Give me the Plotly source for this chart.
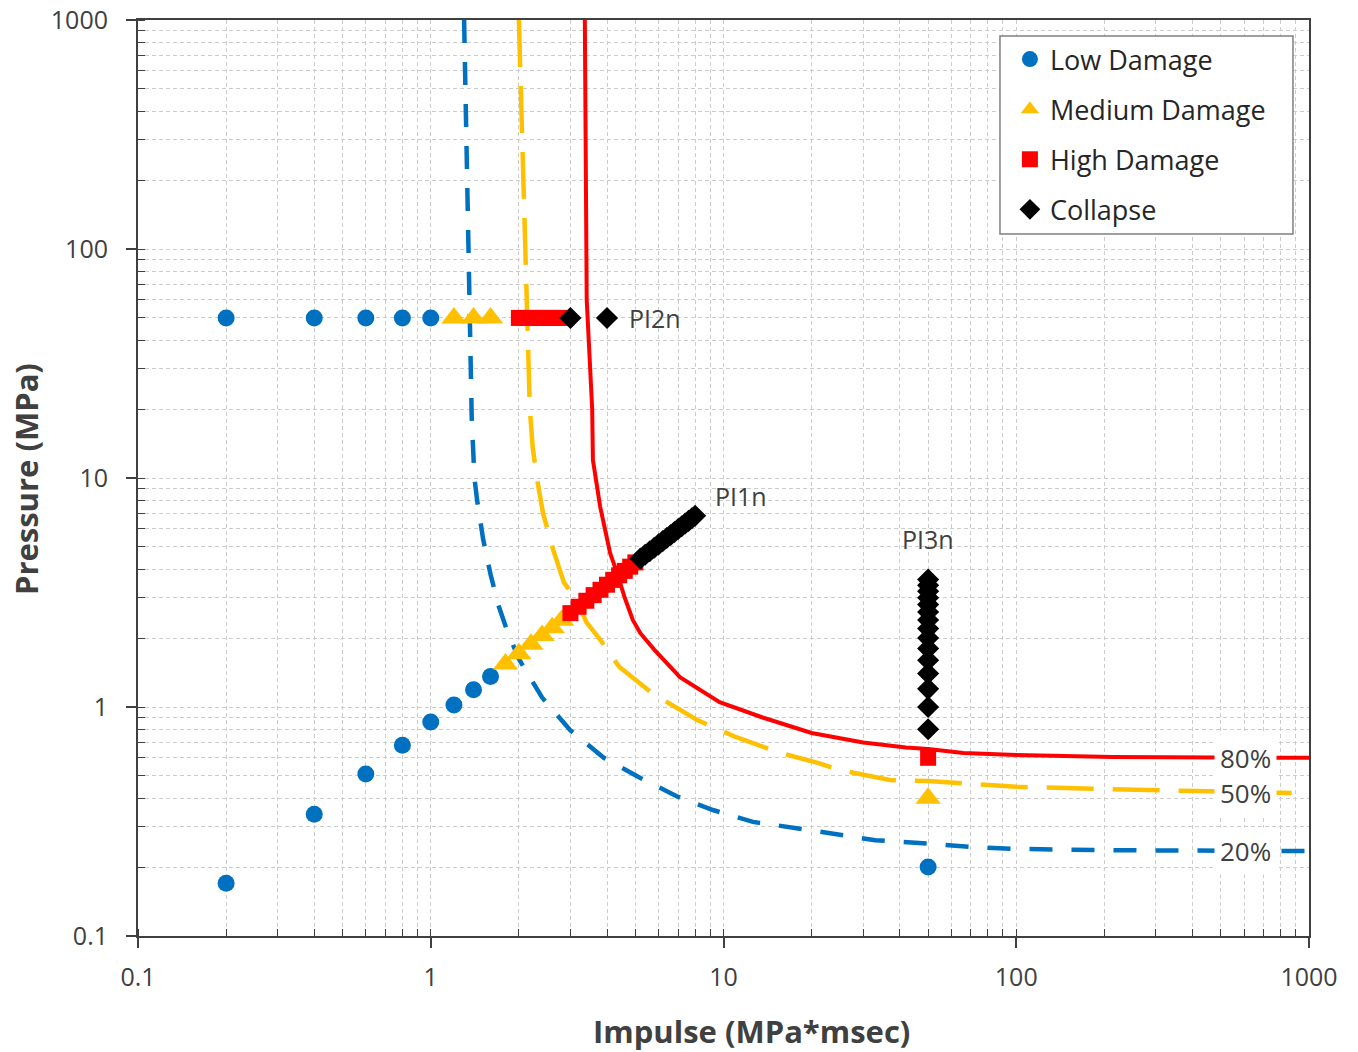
import math
import plotly.graph_objects as go

# ---------------- data ----------------
# Pressure-impulse threshold curves (impulse in MPa*msec, pressure in MPa)
curve20_x = [1.30, 1.33, 1.36, 1.38, 1.41, 1.44, 1.51, 1.60, 1.70, 1.82, 2.0, 2.4, 3.0, 3.9,
             5.2, 7.0, 9.2, 12.6, 18.0, 25.0, 33.0, 50.0, 70.0, 100.0, 200.0, 1000.0]
curve20_y = [1000, 200, 60, 18.5, 10, 8.0, 5.4, 3.8, 2.8, 2.17, 1.62, 1.10, 0.79, 0.60,
             0.49, 0.405, 0.355, 0.315, 0.295, 0.276, 0.262, 0.253, 0.245, 0.240, 0.237, 0.235]

curve50_x = [2.0, 2.05, 2.12, 2.15, 2.18, 2.23, 2.31, 2.42, 2.62, 2.85, 3.16, 3.4, 3.8, 4.4,
             5.7, 8.1, 11.0, 15.6, 21.0, 25.0, 37.0, 50.0, 61.0, 100.0, 280.0, 1000.0]
curve50_y = [1000, 300, 60, 39, 20, 13.6, 9.8, 7.0, 4.85, 3.5, 2.9, 2.35, 1.96, 1.50,
             1.15, 0.88, 0.74, 0.63, 0.57, 0.53, 0.48, 0.475, 0.466, 0.448, 0.434, 0.42]

curve80_x = [3.36, 3.38, 3.41, 3.56, 3.58, 3.79, 4.1, 4.33, 4.6, 4.9, 5.2, 5.8, 7.1, 9.7,
             13.6, 20.0, 30.0, 42.0, 50.0, 66.0, 100.0, 214.0, 1000.0]
curve80_y = [1000, 300, 60, 20, 12, 7.5, 4.7, 3.85, 3.0, 2.4, 2.1, 1.78, 1.35, 1.05,
             0.90, 0.77, 0.70, 0.665, 0.655, 0.63, 0.617, 0.605, 0.60]

curve_labels = ["20%", "50%", "80%"]

# PI1n load path (proportional pressure/impulse)
pi1_low_x = [0.2, 0.4, 0.6, 0.8, 1.0, 1.2, 1.4, 1.6]
pi1_low_y = [0.17, 0.34, 0.51, 0.68, 0.86, 1.02, 1.19, 1.36]
pi1_med_x = [1.8, 2.0, 2.2, 2.4, 2.6, 2.8]
pi1_med_y = [1.54, 1.71, 1.88, 2.05, 2.22, 2.39]
pi1_high_x = [3.0, 3.2, 3.4, 3.6, 3.8, 4.0, 4.2, 4.4, 4.6, 4.8, 5.0]
pi1_high_y = [2.57, 2.74, 2.91, 3.08, 3.25, 3.42, 3.59, 3.76, 3.93, 4.10, 4.28]
pi1_col_x = [5.2, 5.4, 5.6, 5.8, 6.0, 6.2, 6.4, 6.6, 6.8, 7.0, 7.2, 7.4, 7.6, 7.8, 8.0]
pi1_col_y = [4.45, 4.62, 4.79, 4.96, 5.13, 5.30, 5.47, 5.64, 5.81, 5.99, 6.16, 6.33, 6.50, 6.67, 6.84]

# PI2n load path (constant pressure 50 MPa)
pi2_low_x = [0.2, 0.4, 0.6, 0.8, 1.0]
pi2_low_y = [50, 50, 50, 50, 50]
pi2_med_x = [1.2, 1.4, 1.6]
pi2_med_y = [50, 50, 50]
pi2_high_x = [2.0, 2.1, 2.2, 2.3, 2.4, 2.5, 2.6, 2.7, 2.8]
pi2_high_y = [50, 50, 50, 50, 50, 50, 50, 50, 50]
pi2_col_x = [3.0, 4.0]
pi2_col_y = [50, 50]

# PI3n load path (constant impulse 50 MPa*msec)
pi3_low_x = [50]
pi3_low_y = [0.2]
pi3_med_x = [50]
pi3_med_y = [0.4]
pi3_high_x = [50]
pi3_high_y = [0.6]
pi3_col_x = [50] * 15
pi3_col_y = [0.8, 1.0, 1.2, 1.4, 1.6, 1.8, 2.0, 2.2, 2.4, 2.6, 2.8, 3.0, 3.2, 3.4, 3.6]

tick_vals = [0.1, 1, 10, 100, 1000]
tick_text = ["0.1", "1", "10", "100", "1000"]

# ---------------- styling ----------------
BLUE = "#0070C0"
YELLOW = "#FFC000"
RED = "#FF0000"
BLACK = "#000000"
TXT = "#404040"
GRID = "#CCCCCC"
FONT = "Open Sans"

fig = go.Figure()

# threshold curves
fig.add_trace(go.Scatter(x=curve20_x, y=curve20_y, mode="lines", showlegend=False,
                         line=dict(color=BLUE, width=4.5, dash="23px,19px"), hoverinfo="skip"))
fig.add_trace(go.Scatter(x=curve50_x, y=curve50_y, mode="lines", showlegend=False,
                         line=dict(color=YELLOW, width=4.5, dash="47px,19px"), hoverinfo="skip"))
fig.add_trace(go.Scatter(x=curve80_x, y=curve80_y, mode="lines", showlegend=False,
                         line=dict(color=RED, width=4), hoverinfo="skip"))

# damage-level markers, one legend entry per level
levels = [
    ("Low Damage", pi1_low_x + pi2_low_x + pi3_low_x, pi1_low_y + pi2_low_y + pi3_low_y,
     "circle", BLUE, 17),
    ("Medium Damage", pi1_med_x + pi2_med_x + pi3_med_x, pi1_med_y + pi2_med_y + pi3_med_y,
     "triangle-up", YELLOW, 22),
    ("High Damage", pi1_high_x + pi2_high_x + pi3_high_x, pi1_high_y + pi2_high_y + pi3_high_y,
     "square", RED, 16),
    ("Collapse", pi1_col_x + pi2_col_x + pi3_col_x, pi1_col_y + pi2_col_y + pi3_col_y,
     "diamond", BLACK, 17),
]
for name, xs, ys, sym, col, size in levels:
    fig.add_trace(go.Scatter(x=xs, y=ys, mode="markers", name=name, legendgroup=name,
                             marker=dict(symbol=sym, color=col, size=size, line=dict(width=0))))

annotations = []
# load path labels
annotations.append(dict(x=math.log10(pi1_col_x[-1]), y=math.log10(pi1_col_y[-1]), text="PI1n",
                        xanchor="left", yanchor="middle", xshift=18, yshift=20, showarrow=False,
                        font=dict(family=FONT, size=25, color=TXT)))
annotations.append(dict(x=math.log10(pi2_col_x[-1]), y=math.log10(pi2_col_y[-1]), text="PI2n",
                        xanchor="left", yanchor="middle", xshift=20, yshift=0, showarrow=False,
                        font=dict(family=FONT, size=25, color=TXT)))
annotations.append(dict(x=math.log10(pi3_col_x[-1]), y=math.log10(pi3_col_y[-1]), text="PI3n",
                        xanchor="center", yanchor="bottom", yshift=22, showarrow=False,
                        font=dict(family=FONT, size=25, color=TXT)))

# curve labels sitting on the curves near the right edge
for lab, cy in zip(curve_labels, [curve20_y[-1], curve50_y[-1], curve80_y[-1]]):
    annotations.append(dict(xref="paper", x=0.946, y=math.log10(cy), text=lab,
                            xanchor="center", yanchor="middle", showarrow=False,
                            bgcolor="white", borderpad=5,
                            font=dict(family=FONT, size=26, color=TXT)))

# axis titles
annotations.append(dict(xref="paper", yref="paper", x=0.5243, y=-0.1037, text="<b>Impulse (MPa*msec)</b>",
                        xanchor="center", yanchor="middle", showarrow=False,
                        font=dict(family=FONT, size=31, color=TXT)))
annotations.append(dict(xref="paper", yref="paper", x=-0.0956, y=0.4989, text="<b>Pressure (MPa)</b>",
                        textangle=-90, xanchor="center", yanchor="middle", showarrow=False,
                        font=dict(family=FONT, size=31, color=TXT)))

axis_common = dict(
    type="log", range=[-1, 3], tickmode="array", tickvals=tick_vals, ticktext=tick_text,
    showline=True, linecolor="#404040", linewidth=2, mirror=True,
    ticks="outside", ticklen=10, tickwidth=1.5, tickcolor="#404040",
    showgrid=True, gridcolor=GRID, griddash="4px,3px", gridwidth=1,
    tickfont=dict(family=FONT, size=25, color=TXT),
    zeroline=False, automargin=False,
    minor=dict(dtick="D1", ticks="inside", ticklen=7, tickwidth=1, tickcolor="#404040",
               showgrid=True, gridcolor=GRID, griddash="4px,3px", gridwidth=1),
)

fig.update_layout(
    width=1358, height=1052,
    margin=dict(l=138, r=49, t=20, b=116),
    paper_bgcolor="white", plot_bgcolor="white",
    font=dict(family=FONT, color=TXT),
    xaxis=dict(axis_common, ticklabelstandoff=8),
    yaxis=dict(axis_common, ticklabelstandoff=13),
    annotations=annotations,
    shapes=[dict(type="rect", xref="paper", yref="paper", x0=0.7361, x1=0.9863, y0=0.7664, y1=0.9825,
                 fillcolor="white", line=dict(color="#808080", width=1.5), layer="above")],
    legend=dict(x=0.7446, y=0.9836, xanchor="left", yanchor="top",
                bgcolor="rgba(0,0,0,0)", borderwidth=0, traceorder="grouped", tracegroupgap=12,
                font=dict(family=FONT, size=27, color="#262626")),
)

fig.write_html("out.html")
